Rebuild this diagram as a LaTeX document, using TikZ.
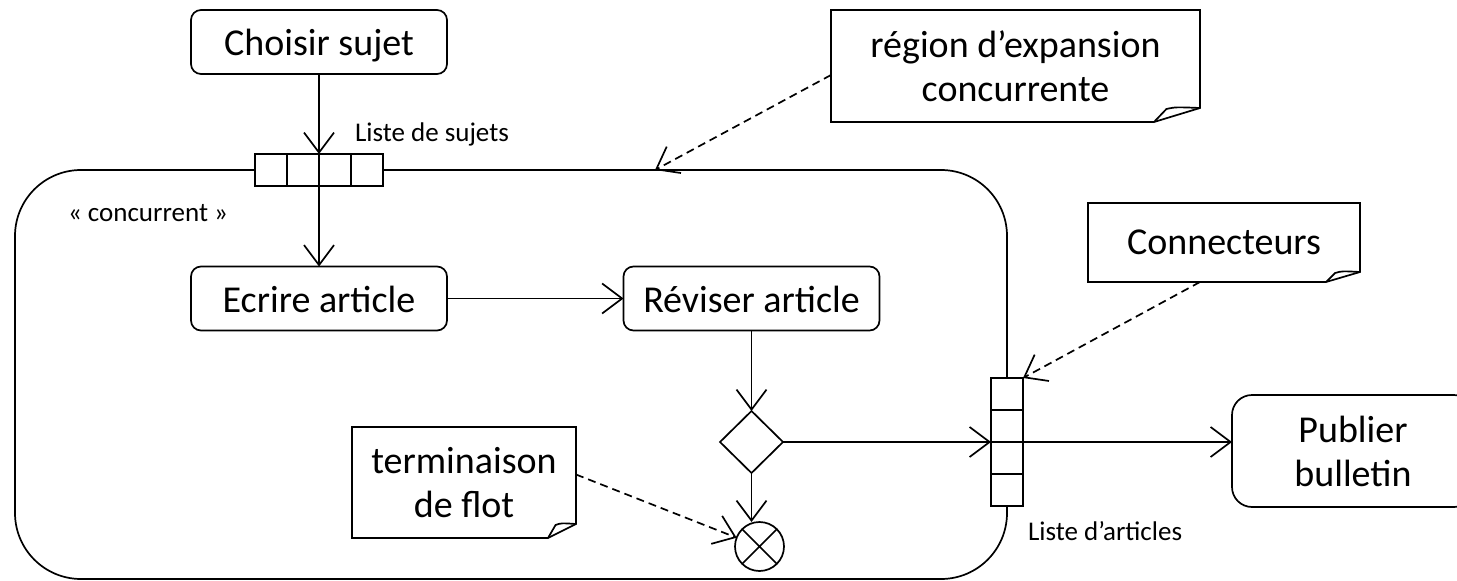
\documentclass[tikz,border=0pt]{standalone}
\usepackage{fontspec}
\setmainfont{Carlito}
\usetikzlibrary{arrows.meta,shapes.geometric,calc}

% note outline with a folded bottom-right corner: #1 node, #2 fold width, #3 fold height
\newcommand{\umlnotefold}[3]{%
  \draw (#1.north west) -- (#1.north east) -- ($(#1.south east)+(0,-#3)$)
        -- ($(#1.south east)+(-#2,0)$) -- (#1.south west) -- cycle;
  \draw ($(#1.south east)+(-#2,0)$) -- ++({0.27*#2},{-#3+1})
        .. controls ++({0.2*#2},-2) .. ($(#1.south east)+(0,-#3)$);
}

\begin{document}
\begin{tikzpicture}[x=1pt,y=-1pt,
  line width=1.7pt,
  every node/.style={inner sep=0pt, outer sep=0pt},
  big/.style={font=\fontsize{38}{44}\selectfont},
  small/.style={font=\fontsize{27}{32}\selectfont},
  act/.style={draw, rounded corners=10pt, big, minimum width=256pt, minimum height=64pt,
              text height=27pt, text depth=0pt},
  notebox/.style={big, align=center},
  flow/.style={-{Straight Barb[length=20pt,width=30pt]}},
  noteline/.style={dash pattern=on 8pt off 5pt, -{Straight Barb[length=20pt,width=30pt]}},
  pin/.style={draw, fill=white}
]
\useasboundingbox (0,0) rectangle (1457,581);

% expansion region
\node[draw, rounded corners=66pt, minimum width=992pt, minimum height=409pt] (region) at (511,374.5) {};

% actions
\node[act] (choisir) at (319,42) {Choisir sujet};
\node[act] (ecrire) at (319,298.5) {Ecrire article};
\node[act] (reviser) at (751.5,298.5) {Réviser article};
\node[draw, rounded corners=20pt, big, align=center, minimum width=242pt, minimum height=112pt] (publier) at (1353,451) {Publier\\bulletin};

% decision and flow final
\node[draw, diamond, minimum width=63pt, minimum height=62pt] (dec) at (751.5,442) {};
\node[draw, circle, minimum size=49pt] (fin) at (759.5,546.5) {};
\draw (fin.45) -- (fin.225) (fin.135) -- (fin.315);

% input pin (four cells)
\node[pin, minimum width=128pt, minimum height=32pt] (pinIn) at (319,170) {};
\foreach \f in {0.25,0.5,0.75}
  \draw ($(pinIn.north west)!\f!(pinIn.north east)$) -- ($(pinIn.south west)!\f!(pinIn.south east)$);

% output pin (four cells)
\node[pin, minimum width=32pt, minimum height=128pt] (pinOut) at (1007,442) {};
\foreach \f in {0.25,0.5,0.75}
  \draw ($(pinOut.north west)!\f!(pinOut.south west)$) -- ($(pinOut.north east)!\f!(pinOut.south east)$);

% labels
\node[small, anchor=base west] (lblIn) at (355,141) {Liste de sujets};
\node[small, anchor=base west] (lblConc) at (68,221) {« concurrent »};
\node[small, anchor=base west] (lblOut) at (1028,540) {Liste d’articles};

% notes
\node[notebox, minimum width=369pt, minimum height=112pt] (nRegion) at (1015.5,66) {région d’expansion\\concurrente};
\umlnotefold{nRegion}{46}{14}
\node[notebox, minimum width=272pt, minimum height=79pt] (nConn) at (1224,242.5) {Connecteurs};
\umlnotefold{nConn}{34}{10}
\node[notebox, minimum width=224pt, minimum height=111pt] (nTerm) at (464,482.5) {terminaison\\de flot};
\umlnotefold{nTerm}{28}{14}

% control flows
\draw[flow] (choisir.south) -- (pinIn.north);
\draw[flow] (pinIn.south) -- (ecrire.north);
\draw[flow] (ecrire.east) -- (reviser.west);
\draw[flow] (reviser.south) -- (dec.north);
\draw[flow] (dec.east) -- (pinOut.west);
\draw[flow] (pinOut.east) -- (pinOut.east -| publier.west);
\draw[flow] (dec.south) -- (dec.south |- fin.north);

% note anchors
\coordinate (regTip) at (655,170);
\draw[noteline] ($(nRegion.west)+(0,9)$) -- (regTip);
\draw[noteline] ($(nConn.south)+(-24,0)$) -- (pinOut.north east);
\draw[noteline] ($(nTerm.east)+(0,-8)$) -- (fin.159);
\end{tikzpicture}
\end{document}
